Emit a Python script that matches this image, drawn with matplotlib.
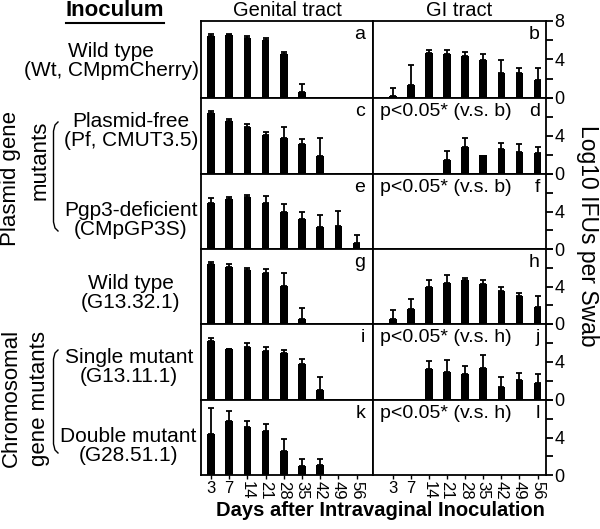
import numpy as np
import matplotlib.pyplot as plt
from matplotlib.lines import Line2D

plt.rcParams['font.family'] = ['Liberation Sans', 'DejaVu Sans']

days = ['3', '7', '14', '21', '28', '35', '42', '49', '56']

# Log10 IFUs per swab: mean and upper error, genital tract (left) / GI tract (right)
a_mean = [6.4, 6.5, 6.25, 6.05, 4.55, 0.65, 0, 0, 0]
a_err = [0.3, 0.15, 0.15, 0.15, 0.25, 0.85, 0, 0, 0]
b_mean = [0.17, 1.4, 4.65, 4.6, 4.4, 3.95, 2.55, 2.6, 1.9]
b_err = [0.9, 2.05, 0.35, 0.4, 0.35, 0.65, 1.4, 0.55, 1.25]
c_mean = [6.4, 5.6, 4.95, 4.1, 3.75, 3.15, 1.85, 0.12, 0.12]
c_err = [0.2, 0.2, 0.3, 0.35, 1.15, 0.55, 1.9, 0, 0]
d_mean = [0.12, 0.12, 0.12, 1.45, 2.8, 1.95, 2.6, 2.3, 2.2]
d_err = [0, 0, 0, 1.0, 0.95, 0, 0.65, 0.85, 0.6]
e_mean = [4.9, 5.3, 5.6, 4.95, 3.9, 3.15, 2.3, 2.5, 0.6]
e_err = [0.5, 0.25, 0.12, 0.7, 0.85, 0.75, 1.3, 1.55, 0.9]
f_mean = [0, 0, 0, 0, 0, 0, 0, 0, 0]
f_err = [0, 0, 0, 0, 0, 0, 0, 0, 0]
g_mean = [6.4, 6.1, 5.75, 5.4, 4.05, 0.5, 0, 0, 0]
g_err = [0.25, 0.25, 0.2, 0.5, 1.35, 1.25, 0, 0, 0]
h_mean = [0.55, 1.65, 4.0, 4.4, 4.65, 4.3, 3.5, 2.95, 1.85]
h_err = [0.95, 1.05, 0.65, 0.8, 0.3, 0.35, 0.4, 0.35, 1.15]
i_mean = [6.25, 5.35, 5.55, 5.2, 5.0, 3.75, 1.05, 0, 0]
i_err = [0.3, 0.05, 0.4, 0.35, 0.3, 0.55, 1.4, 0, 0]
j_mean = [0, 0, 3.25, 3.0, 2.7, 3.35, 1.4, 2.1, 1.75]
j_err = [0, 0, 0.9, 1.2, 0.9, 1.35, 1.0, 0.7, 1.0]
k_mean = [4.4, 5.8, 5.15, 4.7, 2.55, 0.95, 1.1, 0, 0]
k_err = [2.7, 1.0, 0.6, 0.75, 1.3, 0.75, 0.65, 0, 0]
l_mean = [0, 0, 0, 0, 0, 0, 0, 0, 0]
l_err = [0, 0, 0, 0, 0, 0, 0, 0, 0]

letters = ['a', 'b', 'c', 'd', 'e', 'f', 'g', 'h', 'i', 'j', 'k', 'l']
pvals = {'d': 'p<0.05* (v.s. b)', 'f': 'p<0.05* (v.s. b)',
         'j': 'p<0.05* (v.s. h)', 'l': 'p<0.05* (v.s. h)'}
row_labels = ['Wild type\n(Wt, CMpmCherry)', 'Plasmid-free\n(Pf, CMUT3.5)',
              'Pgp3-deficient\n(CMpGP3S)', 'Wild type\n(G13.32.1)',
              'Single mutant\n(G13.11.1)', 'Double mutant\n(G28.51.1)']

means = [a_mean, b_mean, c_mean, d_mean, e_mean, f_mean,
         g_mean, h_mean, i_mean, j_mean, k_mean, l_mean]
errs = [a_err, b_err, c_err, d_err, e_err, f_err,
        g_err, h_err, i_err, j_err, k_err, l_err]

W, H = 600, 529
fig = plt.figure(figsize=(6, 5.29), dpi=100)

def fx(x):
    return x / W

def fy(y):
    return 1 - y / H

rows = [21, 98, 174, 249, 324, 400, 475]
cols = [201, 373, 546]
xlims = [(-0.55, 8.9), (-1.1, 8.47)]

for n in range(12):
    r, c = n // 2, n % 2
    x0, x1 = cols[c], cols[c + 1]
    y0, y1 = rows[r], rows[r + 1]
    ax = fig.add_axes([fx(x0), fy(y1), (x1 - x0) / W, (y1 - y0) / H])
    x = np.arange(len(days))
    m = np.array(means[n])
    e = np.array(errs[n])
    ax.bar(x, m, width=0.42, color='black', linewidth=0)
    k = e > 0
    ax.errorbar(x[k], m[k], yerr=[np.zeros(k.sum()), e[k]], fmt='none',
                ecolor='black', elinewidth=1.3, capsize=2.5, capthick=1.3)
    ax.set_ylim(0, 8)
    ax.set_xlim(*xlims[c])
    for s in ax.spines.values():
        s.set_linewidth(1.3)
    if c == 1:
        ax.yaxis.tick_right()
        ax.set_yticks([0, 2, 4, 6, 8])
        ax.set_yticklabels(['0', '', '4', '', '8' if r == 0 else ''])
        ax.tick_params(axis='y', direction='out', length=5, width=1.3,
                       labelsize=13, pad=1)
    else:
        ax.set_yticks([])
    if r == 5:
        ax.set_xticks(x)
        ax.set_xticklabels(days)
        for t in ax.get_xticklabels():
            if len(t.get_text()) > 1:
                t.set_rotation(270)
        ax.tick_params(axis='x', direction='out', length=3, width=1,
                       labelsize=12, pad=1.5)
    else:
        ax.set_xticks([])
    ax.text(0.955 if c == 0 else 0.965, 0.93, letters[n], transform=ax.transAxes,
            ha='right', va='top', fontsize=14)
    if letters[n] in pvals:
        ax.text(0.04, 0.93, pvals[letters[n]], transform=ax.transAxes,
                ha='left', va='top', fontsize=14)

fig.text(fx(287), fy(11), 'Genital tract', ha='center', va='center', fontsize=14.5)
fig.text(fx(459), fy(11), 'GI tract', ha='center', va='center', fontsize=14.5)
fig.text(fx(587), fy(236), 'Log10 IFUs per Swab', ha='center', va='center',
         rotation=270, fontsize=16.5)
fig.text(fx(380), fy(511), 'Days after Intravaginal Inoculation', ha='center',
         va='center', fontsize=14.5, fontweight='bold')

ino = fig.text(fx(115), fy(11), 'Inoculum', ha='center', va='center',
               fontsize=16, fontweight='bold')

label_pos = [(111, 61), (131, 131), (131, 220), (131, 293), (129, 367), (128, 446)]
for lab, (px, py) in zip(row_labels, label_pos):
    fig.text(fx(px), fy(py), lab, ha='center', va='center', fontsize=15,
             multialignment='center', linespacing=1.0)

fig.text(fx(11), fy(178), 'Plasmid gene', ha='center', va='center',
         rotation=90, fontsize=16)
fig.text(fx(40), fy(160), 'mutants', ha='center', va='center',
         rotation=90, fontsize=16)
fig.text(fx(11), fy(398), 'Chromosomal', ha='center', va='center',
         rotation=90, fontsize=16)
fig.text(fx(40), fy(398), 'gene mutants', ha='center', va='center',
         rotation=90, fontsize=16)

# brackets next to the mutant groups
for top, bot in [(122, 231), (350, 453)]:
    bx = [58, 55, 53.5, 53.5, 55, 58]
    by = [top, top + 3, top + 9, bot - 9, bot - 3, bot]
    fig.add_artist(Line2D([fx(v) for v in bx], [fy(v) for v in by],
                          transform=fig.transFigure, color='black', lw=1))

# underline for "Inoculum"
fig.canvas.draw()
bb = ino.get_window_extent()
inv = fig.transFigure.inverted()
(ux0, uy), (ux1, _) = inv.transform([(bb.x0, bb.y0 - 1), (bb.x1, bb.y0 - 1)])
fig.add_artist(Line2D([ux0, ux1], [uy, uy], transform=fig.transFigure,
                      color='black', lw=1.5))

fig.savefig('out.png', dpi=100)
